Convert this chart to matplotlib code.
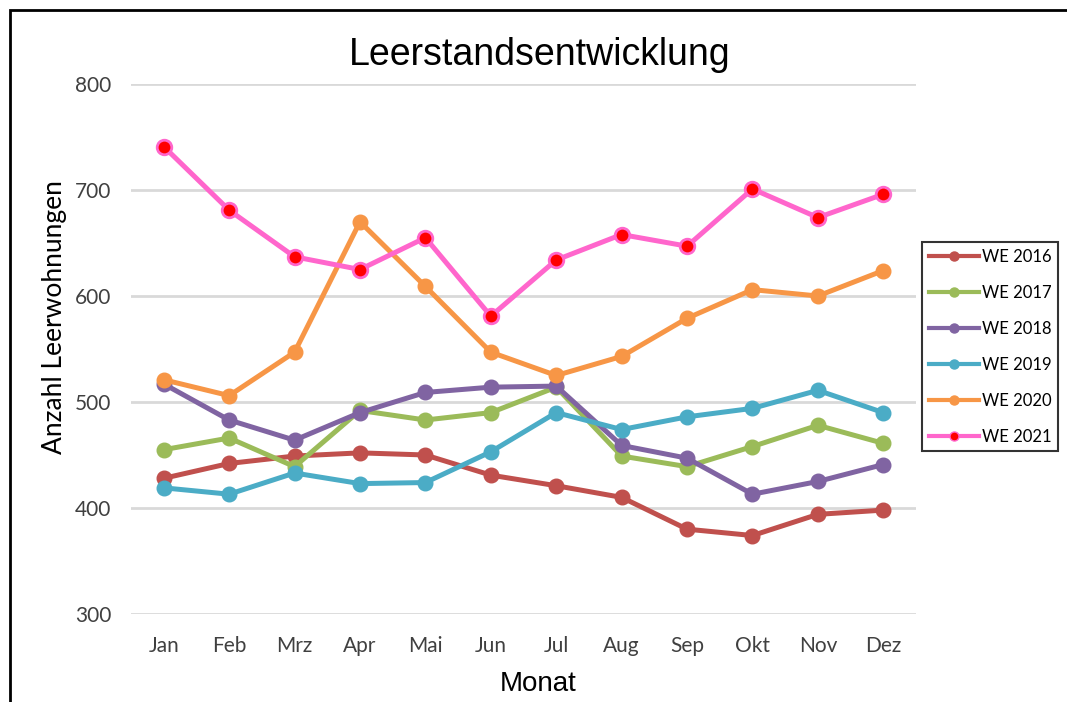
import matplotlib
matplotlib.use("Agg")
import matplotlib.pyplot as plt
from matplotlib.patches import Rectangle

monate = ["Jan", "Feb", "Mrz", "Apr", "Mai", "Jun", "Jul", "Aug", "Sep", "Okt", "Nov", "Dez"]

we_2016 = [428, 442, 449, 452, 450, 431, 421, 410, 380, 374, 394, 398]
we_2017 = [455, 466, 439, 492, 483, 490, 514, 449, 439, 458, 478, 461]
we_2018 = [517, 483, 464, 490, 509, 514, 515, 459, 447, 413, 425, 441]
we_2019 = [419, 413, 433, 423, 424, 453, 490, 474, 486, 494, 511, 490]
we_2020 = [521, 506, 547, 670, 609, 547, 525, 543, 579, 606, 600, 624]
we_2021 = [741, 681, 637, 625, 655, 581, 634, 658, 647, 701, 674, 696]

reihen = [
    ("WE 2016", we_2016, "#C0504D", "#C0504D"),
    ("WE 2017", we_2017, "#9BBB59", "#9BBB59"),
    ("WE 2018", we_2018, "#8064A2", "#8064A2"),
    ("WE 2019", we_2019, "#4BACC6", "#4BACC6"),
    ("WE 2020", we_2020, "#F79646", "#F79646"),
    ("WE 2021", we_2021, "#FF66CC", "#FF0000"),
]

fig = plt.figure(figsize=(10.67, 7.02), dpi=100)
ax = fig.add_axes([0.1228, 0.1254, 0.7357, 0.7549])

x = list(range(len(monate)))
for name, werte, farbe, fuellung in reihen:
    if fuellung == farbe:
        ax.plot(x, werte, color=farbe, lw=3.6, marker="o", markersize=10.5,
                label=name, clip_on=False, zorder=3)
    else:
        ax.plot(x, werte, color=farbe, lw=3.6, marker="o", markersize=10.5,
                markerfacecolor=fuellung, markeredgecolor=farbe, markeredgewidth=2,
                label=name, clip_on=False, zorder=3)

ax.set_xlim(-0.5, 11.5)
ax.set_ylim(300, 800)
ax.set_yticks([300, 400, 500, 600, 700, 800])
ax.set_xticks(x)
ax.set_xticklabels(monate)
ax.grid(axis="y", color="#D9D9D9", lw=2)
ax.set_axisbelow(True)
for s in ax.spines.values():
    s.set_visible(False)
ax.tick_params(length=0, labelsize=15, labelcolor="#404040")
ax.tick_params(axis="x", pad=16)
ax.tick_params(axis="y", pad=14)
for lab in ax.get_xticklabels() + ax.get_yticklabels():
    lab.set_family("Lato")

ax.set_title("Leerstandsentwicklung", fontsize=27, family="Liberation Sans", pad=14, x=0.52)
ax.set_ylabel("Anzahl Leerwohnungen", fontsize=19, family="Lato")
ax.yaxis.set_label_coords(-0.082, 0.56)
ax.set_xlabel("Monat", fontsize=20, family="Liberation Sans")
ax.xaxis.set_label_coords(0.518, -0.108)

leg = fig.legend(loc="upper left", bbox_to_anchor=(922 / 1067, 1 - 242 / 702),
                 frameon=True, fancybox=False, edgecolor="black", handlelength=3.0,
                 prop={"family": "Lato", "size": 12}, labelspacing=1.2,
                 borderpad=0.4, handletextpad=0.2, borderaxespad=0)
leg.get_frame().set_linewidth(1.5)
for l in leg.get_lines():
    l.set_linewidth(3)
    l.set_markersize(6.5)
    l.set_markeredgewidth(1)

fig.patches.append(Rectangle((10 / 1067, -0.1), 1.2, 1 - 10 / 702 + 0.1, transform=fig.transFigure,
                             fill=False, edgecolor="black", lw=2))

fig.savefig("out.png", dpi=100)
